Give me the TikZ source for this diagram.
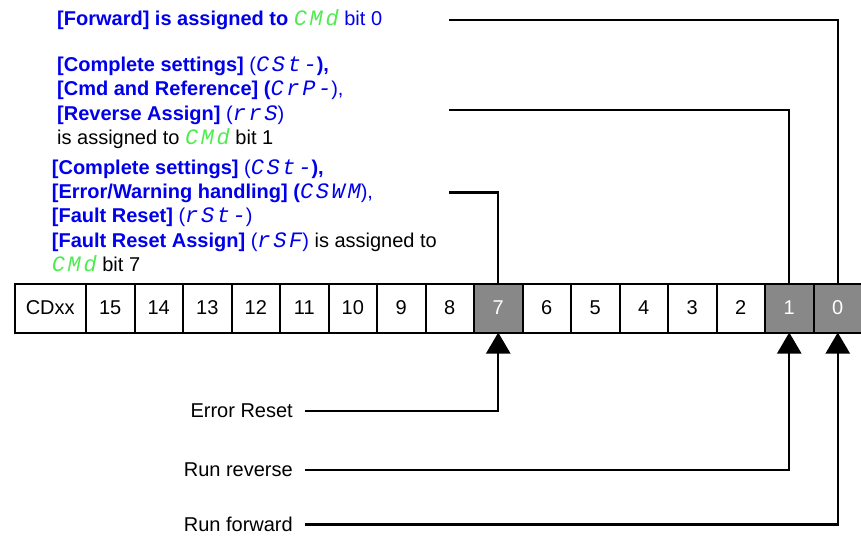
\documentclass[tikz,border=0pt]{standalone}
\usepackage{fontspec}
\setmainfont{Liberation Sans}
\newfontfamily\segfont[LetterSpace=12]{Liberation Mono}
\usetikzlibrary{arrows.meta}
\definecolor{parblue}{RGB}{0,0,235}
\definecolor{seggreen}{RGB}{80,235,80}
\definecolor{setgray}{RGB}{136,136,136}
\newcommand{\sg}[1]{{\segfont\mdseries\itshape\fontsize{22}{24}\selectfont #1}}
\newcommand{\cmdg}{{\color{seggreen}\sg{CMd}}}
\tikzset{cell/.style={draw,line width=2pt,minimum width=48.5pt,minimum height=49pt,inner sep=0pt,outer sep=0pt},
  setcell/.style={cell,fill=setgray,text=white},
  wire/.style={line width=2.2pt},
  feed/.style={wire,-{Triangle[length=21pt,width=24pt]}},
  lbl/.style={anchor=base west,inner sep=0pt},
  src/.style={anchor=east,inner sep=0pt}}

\begin{document}
\begin{tikzpicture}[x=1pt,y=-1pt,font=\fontsize{20}{24}\selectfont]
  \useasboundingbox (0,0) rectangle (861,535);
  \node[lbl,text=parblue] (t0) at (57,25.5) {\bfseries [Forward] is assigned to \cmdg\ {\mdseries bit 0}};
  \node[lbl,text=parblue] (c1) at (57,71.5) {{\bfseries [Complete settings]} (\sg{CSt-}{\bfseries ),}};
  \node[lbl,text=parblue] (c2) at (57,95.9) {{\bfseries [Cmd and Reference] (}\sg{CrP-}),};
  \node[lbl,text=parblue] (c3) at (57,120.3) {{\bfseries [Reverse Assign]} (\sg{rrS})};
  \node[lbl] (c4) at (57,144.7) {is assigned to \cmdg\ bit 1};
  \node[lbl,text=parblue] (e1) at (51.7,174) {{\bfseries [Complete settings]} (\sg{CSt-}{\bfseries ),}};
  \node[lbl,text=parblue] (e2) at (51.7,198.4) {{\bfseries [Error/Warning handling] (}\sg{CSWM}),};
  \node[lbl,text=parblue] (e3) at (51.7,222.8) {{\bfseries [Fault Reset]} (\sg{rSt-})};
  \node[lbl,text=parblue] (e4) at (51.7,247.2) {{\bfseries [Fault Reset Assign]} (\sg{rSF}) {\color{black}is assigned to}};
  \node[lbl] (e5) at (51.7,271) {\cmdg\ bit 7};

  \node[cell,minimum width=71.5pt] (cd) at (50.25,308) {CDxx};
  \foreach \b/\s [count=\i from 0] in {15/cell,14/cell,13/cell,12/cell,11/cell,10/cell,9/cell,8/cell,7/setcell,6/cell,5/cell,4/cell,3/cell,2/cell,1/setcell,0/setcell}
    \node[\s] (b\b) at (110.25+48.5*\i,308) {\b};

  \node[src] (er) at (293,411) {Error Reset};
  \node[src] (rr) at (293,470) {Run reverse};
  \node[src] (rf) at (293,524.5) {Run forward};

  \coordinate (f0) at (449,20);
  \coordinate (f1) at (449,110);
  \coordinate (f7) at (449,192.5);
  \draw[wire] (f0) -| (b0.north);
  \draw[wire] (f1) -| (b1.north);
  \draw[wire] (f7) -| (b7.north);
  \draw[feed] ([xshift=12pt]er.east) -| (b7.south);
  \draw[feed] ([xshift=12pt]rr.east) -| (b1.south);
  \draw[feed] ([xshift=12pt]rf.east) -| (b0.south);
\end{tikzpicture}
\end{document}
